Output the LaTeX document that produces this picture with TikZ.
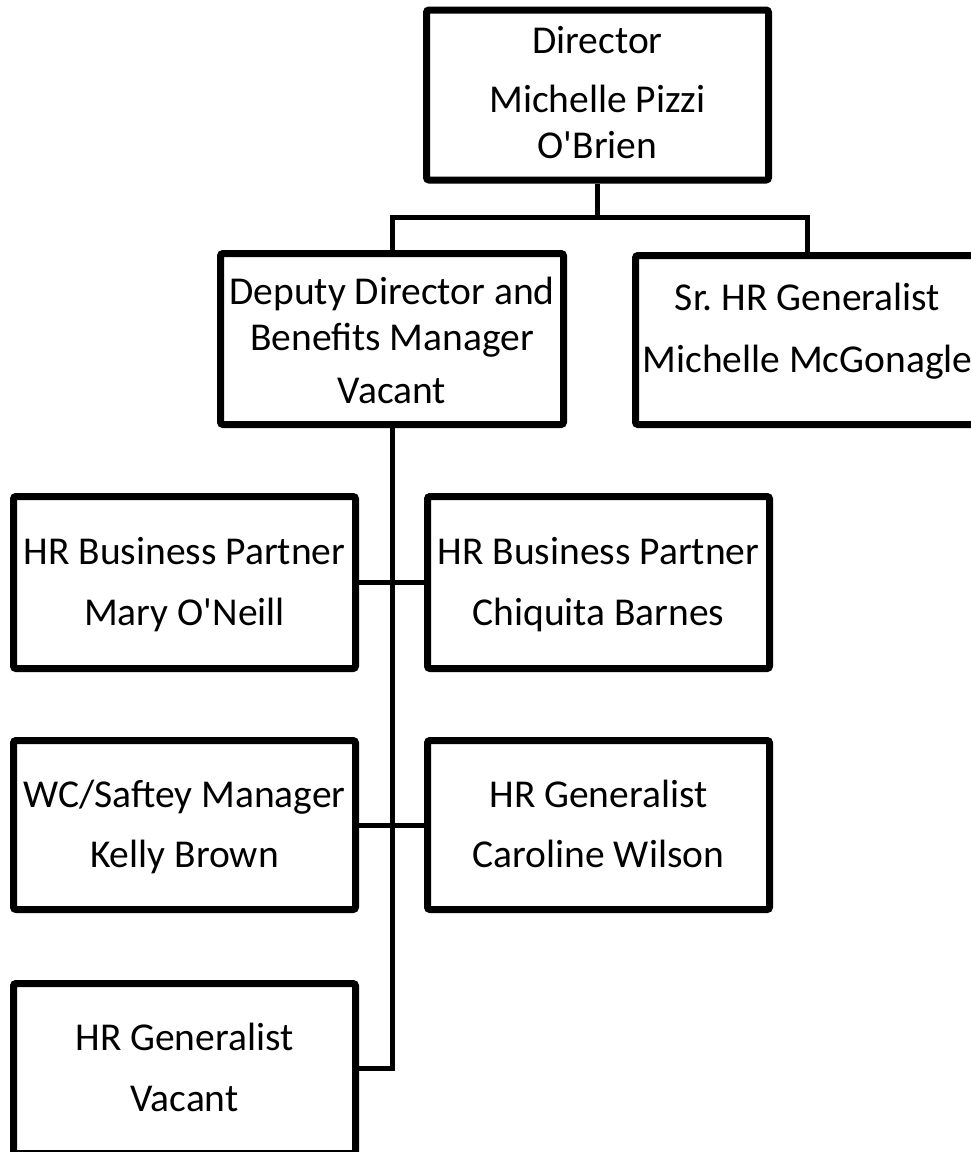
\documentclass[tikz,border=0pt]{standalone}
\usepackage{fontspec}
\setmainfont{Carlito}[Ligatures=TeXOff]
\usetikzlibrary{shadows}
\frenchspacing
\tikzset{
  orgbox/.style={draw=black, line width=7pt, fill=white, rounded corners=2.5pt,
    align=center, inner sep=0pt, text depth=0pt,
    font=\fontsize{39.5}{46}\selectfont,
    drop shadow={opacity=0.18, shadow xshift=2pt, shadow yshift=-3pt}},
  link/.style={draw=black, line width=5pt},
}
\begin{document}
\begin{tikzpicture}[x=1pt, y=-1pt]
\useasboundingbox (0,0) rectangle (971,1152);
\clip (0,0) rectangle (971,1152);
\fill[white] (0,0) rectangle (971,1152);
% boxes
\node[orgbox, minimum width=342pt, minimum height=170pt, text height=126pt] (dir) at (597.5,95)
  {Director\\[13pt] Michelle Pizzi\\ O'Brien};
\node[orgbox, minimum width=343pt, minimum height=171pt, text height=128pt] (dep) at (392,339)
  {Deputy Director and\\ Benefits Manager\\[7pt] Vacant};
\node[orgbox, minimum width=344pt, minimum height=169pt, text height=64pt] (sr) at (807.5,340)
  {Sr.\ HR Generalist\\[16pt] Michelle McGonagle};
\node[orgbox, minimum width=342pt, minimum height=172pt, text height=85pt] (mary) at (184.5,582.5)
  {HR Business Partner\\[15pt] Mary O'Neill};
\node[orgbox, minimum width=342pt, minimum height=172pt, text height=85pt] (chq) at (598.5,582.5)
  {HR Business Partner\\[15pt] Chiquita Barnes};
\node[orgbox, minimum width=342pt, minimum height=169pt, text height=84pt] (wc) at (184.5,825)
  {WC/Saftey Manager\\[14pt] Kelly Brown};
\node[orgbox, minimum width=342pt, minimum height=169pt, text height=84pt] (car) at (598.5,825)
  {HR Generalist\\[14pt] Caroline Wilson};
\node[orgbox, minimum width=342pt, minimum height=170pt, text height=85pt] (vac) at (184.5,1068.5)
  {HR Generalist\\[15pt] Vacant};
% connectors
\coordinate (bus) at (597.5,217);
\draw[link] (dir.south) -- (bus);
\draw[link] (dep.north) |- (bus) -| (sr.north);
\draw[link] (dep.south) |- (vac.east);
\draw[link] (mary.east) -- (chq.west);
\draw[link] (wc.east) -- (car.west);
\end{tikzpicture}
\end{document}
